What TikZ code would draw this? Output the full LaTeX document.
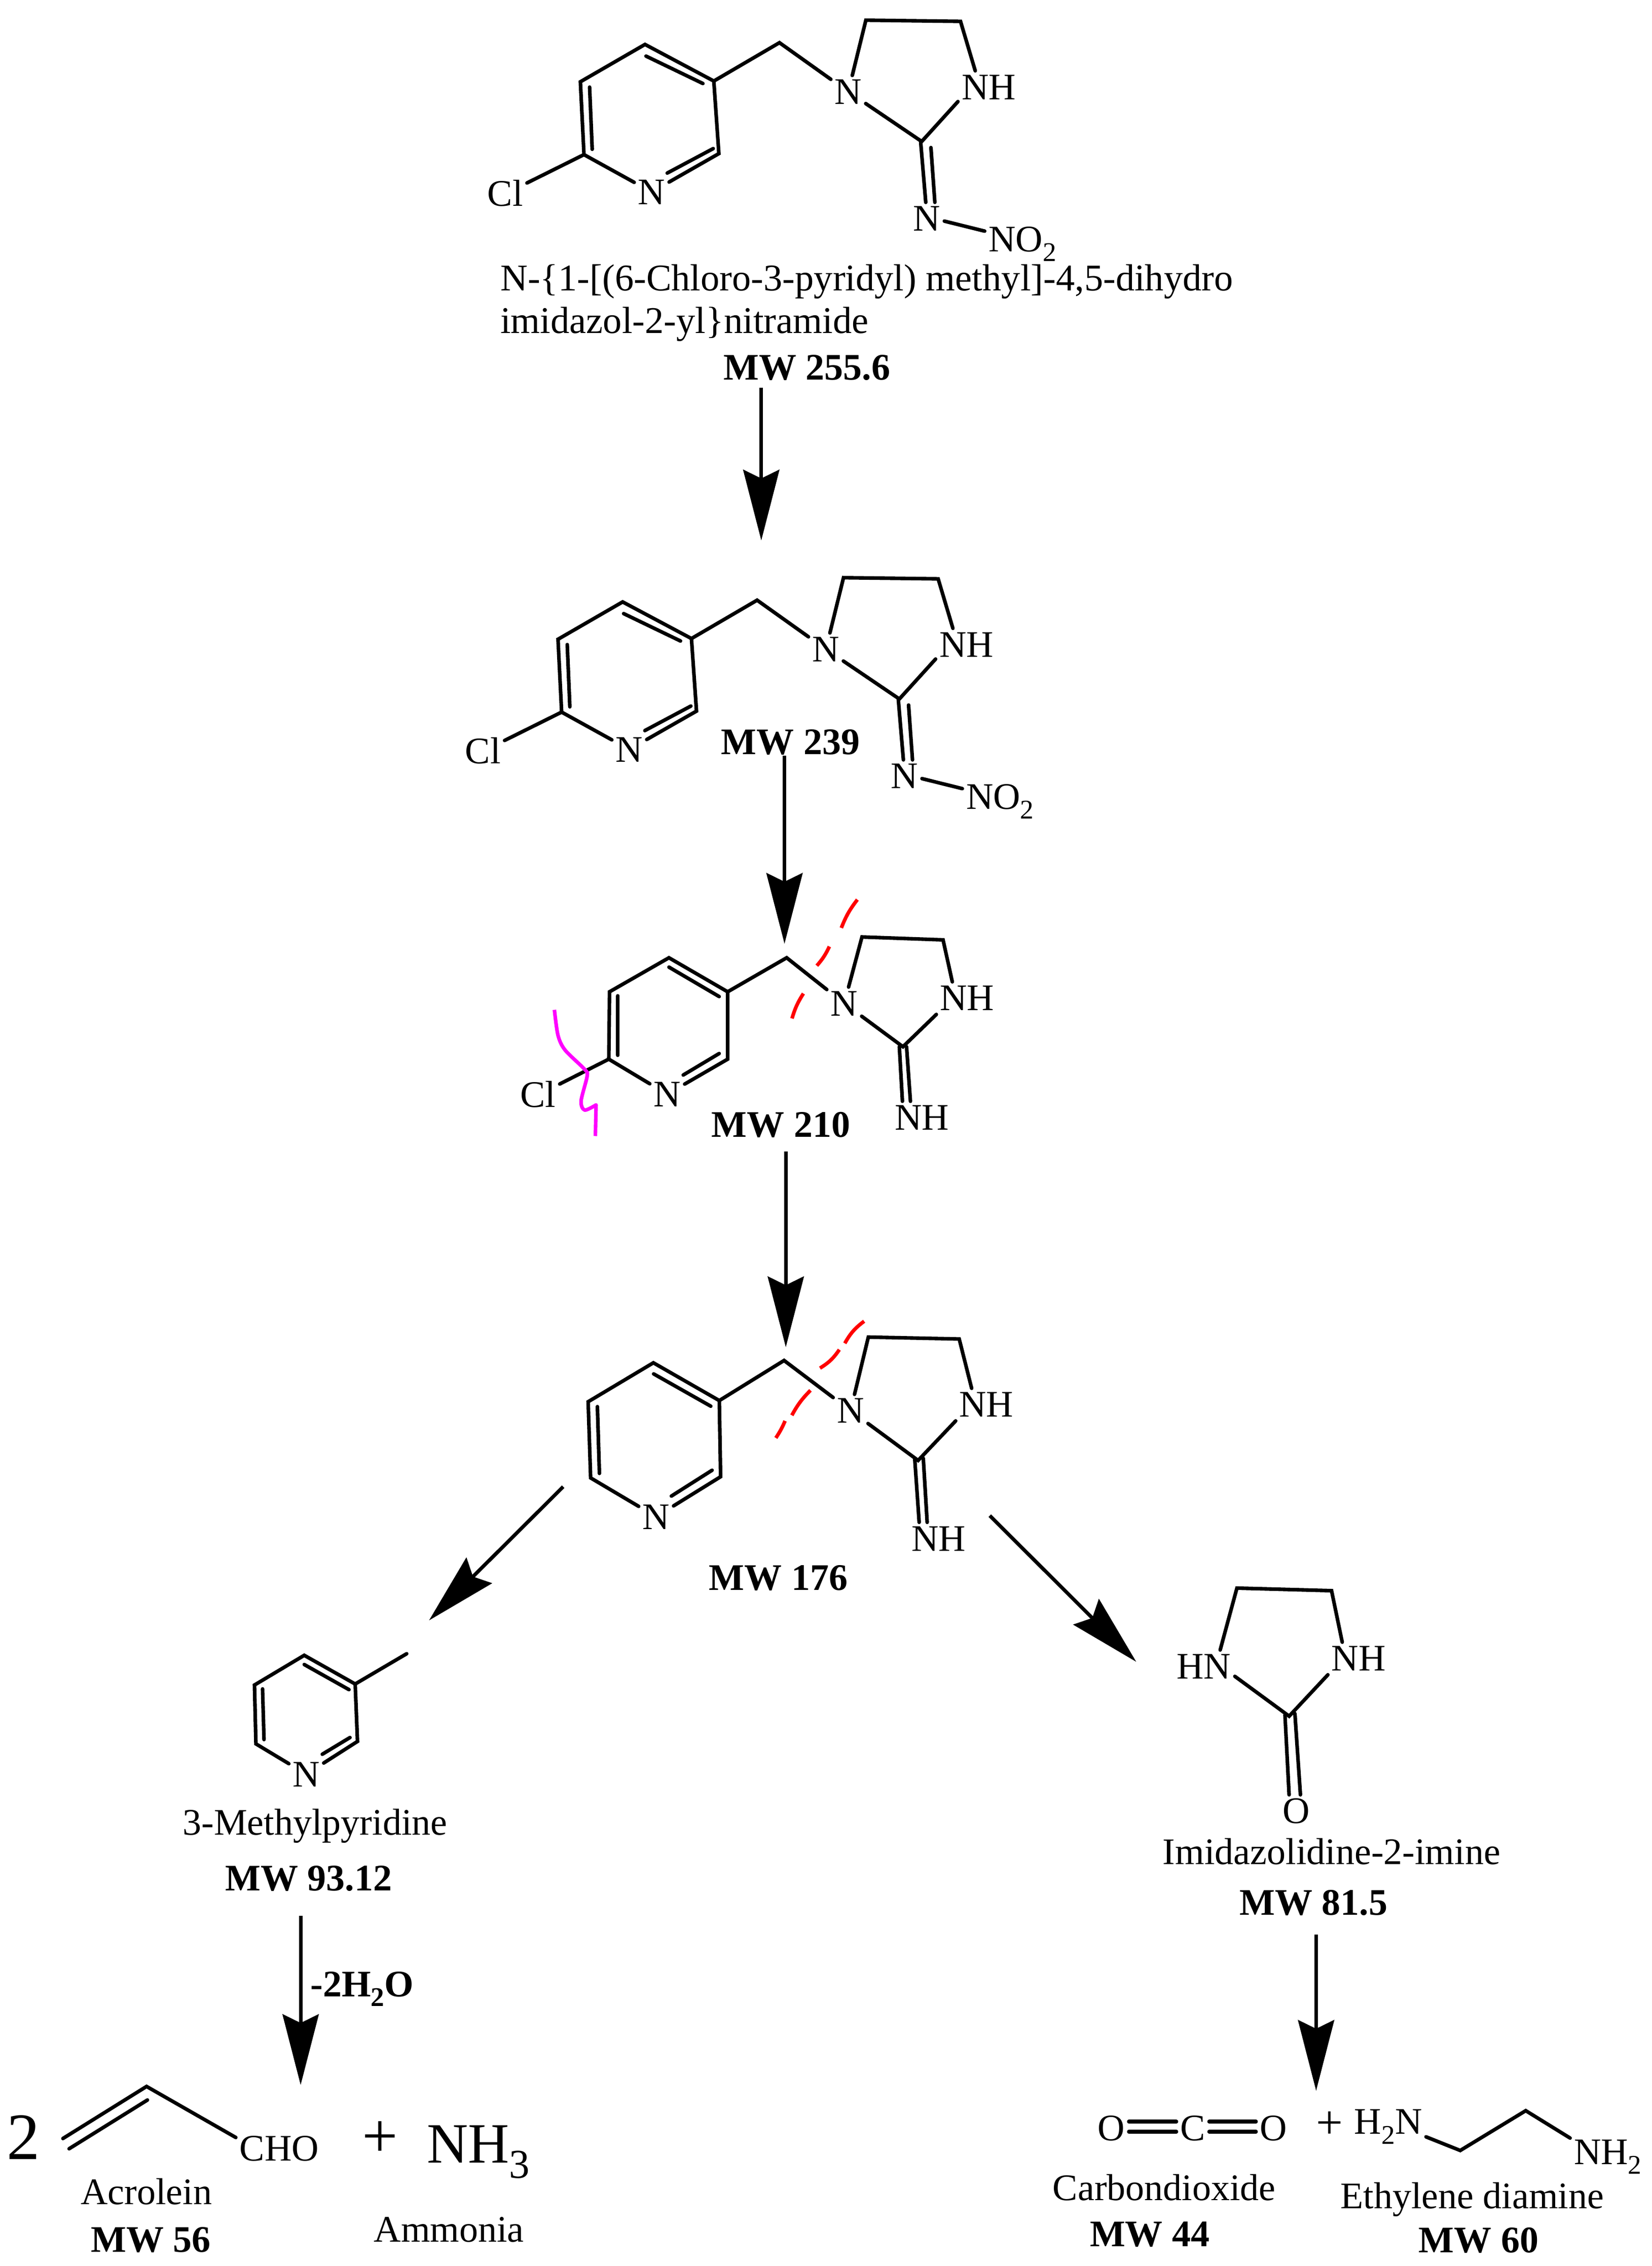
\documentclass[tikz,border=0pt]{standalone}
\usepackage{fontspec}
\setmainfont{Liberation Serif}
\usetikzlibrary{arrows.meta}
\newcommand\chemsub[1]{\raisebox{-.26em}{\scalebox{.72}{#1}}}
\definecolor{cutr}{RGB}{255,0,0}
\definecolor{cutm}{RGB}{255,0,255}
\tikzset{
  bond/.style={line width=2.5pt,line cap=round,line join=miter},
  rxn/.style={line width=2.5pt,-{Stealth[length=49pt,width=25pt,inset=6pt]}},
  atom/.style={font=\fontsize{26}{30}\selectfont,inner sep=2.5pt,text height=17.2pt,text depth=0pt},
  lab/.style={font=\fontsize{26}{30}\selectfont,inner sep=0pt,anchor=base},
  mw/.style={font=\fontsize{26}{30}\selectfont\bfseries,inner sep=0pt,anchor=base},
  cutred/.style={line width=2.5pt,draw=cutr},
  cutpink/.style={line width=2.5pt,draw=cutm},
}
\newcommand\nitromol{%
  \coordinate (r1) at (447.1,30.8);
  \coordinate (r2) at (402.3,56.7);
  \coordinate (r3) at (404.8,107.2);
  \coordinate (r5) at (498.3,106.5);
  \coordinate (r6) at (494.8,56.2);
  \coordinate (ch) at (540.3,29.6);
  \coordinate (i1) at (600.2,14);
  \coordinate (i2) at (665.8,14.8);
  \coordinate (c2) at (638.9,98.1);
  \coordinate (ia) at (447.8,38.9); \coordinate (ib) at (487.2,57.9);
  \coordinate (ic) at (408.7,60.4); \coordinate (id) at (410.5,103.5);
  \coordinate (ie) at (494.4,103);  \coordinate (if) at (462.5,120);
  \coordinate (da) at (638.2,98.6); \coordinate (db) at (645.3,102.3);
  \node[atom] (cl) at (350.3,134.3) {Cl};
  \node[atom] (n) at (451.7,133.1) {N};
  \node[atom] (n1) at (588,63.6) {N};
  \node[atom] (nh) at (685.5,60.4) {NH};
  \node[atom] (nn) at (642.5,151.6) {N};
  \node[atom] (no) at (708.7,165.8) {NO\chemsub{2}};
  \draw[bond] (n) -- (r3) -- (r2) -- (r1) -- (r6) -- (r5) -- (n);
  \draw[bond] (ia) -- (ib) (ic) -- (id) (ie) -- (if);
  \draw[bond] (r3) -- (cl);
  \draw[bond] (r6) -- (ch) -- (n1);
  \draw[bond] (n1) -- (i1) -- (i2) -- (nh.130);
  \draw[bond] (n1) -- (c2) -- (nh.205);
  \draw[bond] (da) -- (nn.94) (db) -- (nn.64);
  \draw[bond] (nn.352) -- (no.168);
}
\begin{document}
\begin{tikzpicture}[x=1pt,y=-1pt]
\useasboundingbox (0,0) rectangle (1145.1,1571);
% molecule 1
\begin{scope}[name prefix=a-]
\nitromol
\end{scope}
\node[lab,anchor=north west,align=left,font=\fontsize{26.15}{29.6}\selectfont] (nameA) at (346.7,183.2)
  {N-\{1-[(6-Chloro-3-pyridyl) methyl]-4,5-dihydro\\imidazol-2-yl\}nitramide};
\node[mw] (mwA) at (559.3,263.2) {MW 255.6};
% molecule 2
\begin{scope}[name prefix=b-,shift={(-15.5,386.5)}]
\nitromol
\end{scope}
\node[mw] (mwB) at (548,523) {MW 239};
% molecule 3
\begin{scope}[name prefix=c-]
  \coordinate (r1) at (463.7,664);
  \coordinate (r2) at (422.5,687.6);
  \coordinate (r3) at (422,734.3);
  \coordinate (r5) at (504.4,734.3);
  \coordinate (r6) at (504.4,687.6);
  \coordinate (ch) at (545.3,664);
  \coordinate (i1) at (597.5,649.6);
  \coordinate (i2) at (653.7,651.6);
  \coordinate (c2) at (625.9,725.7);
  \coordinate (ia) at (463.7,670.5); \coordinate (ib) at (498.5,690.9);
  \coordinate (ic) at (428.2,690.4); \coordinate (id) at (428.2,731.6);
  \coordinate (ie) at (498.5,730.4); \coordinate (if) at (473.6,745.3);
  \coordinate (da) at (623.4,725.7); \coordinate (db) at (628.4,725.7);
  \node[atom] (cl) at (373,759.1) {Cl};
  \node[atom] (n) at (462.5,758.6) {N};
  \node[atom] (n1) at (585.2,695.6) {N};
  \node[atom] (nh) at (670.3,692) {NH};
  \node[atom] (nl) at (639,774.8) {NH};
  \draw[bond] (n) -- (r3) -- (r2) -- (r1) -- (r6) -- (r5) -- (n);
  \draw[bond] (ia) -- (ib) (ic) -- (id) (ie) -- (if);
  \draw[bond] (r3) -- (cl);
  \draw[bond] (r6) -- (ch) -- (n1);
  \draw[bond] (n1) -- (i1) -- (i2) -- (nh.132);
  \draw[bond] (n1) -- (c2) -- (nh.208);
  \draw[bond] (da) -- (nl.140) (db) -- (nl.125);
\end{scope}
\draw[cutred] (594.3,623.7) to[bend right=8] (583.2,643.3);
\draw[cutred] (574.9,656.2) to[bend left=8] (566.2,669.5);
\draw[cutred] (556.9,688.8) to[bend right=8] (549,706.1);
\draw[cutpink,line join=round] plot[smooth] coordinates {(384.3,700.1) (386.8,717.8) (391.7,728) (405.3,741.4) (407,746) (402.8,763.3) (405.3,769.6) (413.2,766)} -- (412.7,787.6);
\node[mw] (mwC) at (541.3,788.4) {MW 210};
% molecule 4
\begin{scope}[name prefix=d-]
  \coordinate (r1) at (452.9,944.8);
  \coordinate (r2) at (407.7,971.8);
  \coordinate (r3) at (409.4,1024.6);
  \coordinate (r5) at (499.5,1023.8);
  \coordinate (r6) at (498.6,971);
  \coordinate (ch) at (543.5,943.2);
  \coordinate (i1) at (601.9,927);
  \coordinate (i2) at (664.9,928.3);
  \coordinate (c2) at (636.4,1012.5);
  \coordinate (ia) at (453.1,952.5); \coordinate (ib) at (492.7,974.9);
  \coordinate (ic) at (414.1,975.2); \coordinate (id) at (415.5,1021.5);
  \coordinate (ie) at (493.6,1019.3); \coordinate (if) at (465.4,1037.2);
  \coordinate (da) at (634.1,1011.8); \coordinate (db) at (640,1011);
  \node[atom] (n) at (454.8,1051.5) {N};
  \node[atom] (n1) at (589.6,978) {N};
  \node[atom] (nh) at (683.7,973.8) {NH};
  \node[atom] (nl) at (650.6,1066.7) {NH};
  \draw[bond] (n) -- (r3) -- (r2) -- (r1) -- (r6) -- (r5) -- (n);
  \draw[bond] (ia) -- (ib) (ic) -- (id) (ie) -- (if);
  \draw[bond] (r6) -- (ch) -- (n1);
  \draw[bond] (n1) -- (i1) -- (i2) -- (nh.132);
  \draw[bond] (n1) -- (c2) -- (nh.208);
  \draw[bond] (da) -- (nl.140) (db) -- (nl.125);
\end{scope}
\draw[cutred] (599,916) to[bend right=12] (585.6,931.3);
\draw[cutred] (581.8,935.7) to[bend left=12] (568.4,948.5);
\draw[cutred] (561.8,963.9) to[bend right=8] (548.9,981.2);
\draw[cutred] (544.2,985.1) to[bend left=5] (537.8,996.9);
\node[mw] (mwD) at (539.5,1102.5) {MW 176};
% 3-methylpyridine
\begin{scope}[name prefix=e-]
  \coordinate (r1) at (210.9,1147.6);
  \coordinate (r2) at (176.4,1168.2);
  \coordinate (r3) at (177.4,1209);
  \coordinate (r5) at (247.8,1207.3);
  \coordinate (r6) at (246.2,1167.5);
  \coordinate (me) at (281.9,1146.5);
  \coordinate (ia) at (210.9,1154); \coordinate (ib) at (241.9,1171.4);
  \coordinate (ic) at (182,1170.9); \coordinate (id) at (183,1206);
  \coordinate (ie) at (242.6,1204.6); \coordinate (if) at (223.4,1216.2);
  \node[atom] (n) at (212.3,1230) {N};
  \draw[bond] (n) -- (r3) -- (r2) -- (r1) -- (r6) -- (r5) -- (n);
  \draw[bond] (ia) -- (ib) (ic) -- (id) (ie) -- (if);
  \draw[bond] (r6) -- (me);
\end{scope}
\node[lab] (nameE) at (218.4,1272) {3-Methylpyridine};
\node[mw] (mwE) at (214,1310.9) {MW 93.12};
% imidazolidinone
\begin{scope}[name prefix=f-]
  \coordinate (i1) at (857.4,1101);
  \coordinate (i2) at (923,1102.8);
  \coordinate (c2) at (893.6,1189.8);
  \coordinate (da) at (890.7,1188.9); \coordinate (db) at (897.6,1188);
  \node[atom] (hn) at (834.5,1155.2) {HN};
  \node[atom] (nh) at (941.7,1149.8) {NH};
  \node[atom] (o) at (898.6,1255.6) {O};
  \draw[bond] (hn.45) -- (i1) -- (i2) -- (nh.135);
  \draw[bond] (hn.342) -- (c2) -- (nh.208);
  \draw[bond] (da) -- (o.114) (db) -- (o.76);
\end{scope}
\node[lab] (nameF) at (923,1292.4) {Imidazolidine-2-imine};
\node[mw] (mwF) at (910.5,1327.6) {MW 81.5};
% acrolein
\begin{scope}[name prefix=g-]
  \coordinate (c2) at (101.6,1446.5);
  \coordinate (c1) at (43.6,1482.6);
  \coordinate (ia) at (102.2,1455.9); \coordinate (ib) at (47.9,1489.7);
  \node[atom] (cho) at (193.6,1489.4) {CHO};
  \draw[bond] (c1) -- (c2) -- (cho.166);
  \draw[bond] (ia) -- (ib);
\end{scope}
\node[lab,font=\fontsize{46}{50}\selectfont] (two) at (16.4,1497) {2};
\node[lab,font=\fontsize{44}{48}\selectfont] (plusA) at (263.5,1495.5) {+};
\node[lab,font=\fontsize{39.5}{44}\selectfont,anchor=base west] (nh3) at (295.8,1499.6) {NH\chemsub{3}};
\node[lab] (nameG) at (101.5,1528.4) {Acrolein};
\node[mw] (mwG) at (104.5,1561.3) {MW 56};
\node[lab] (nameH) at (311.2,1554.4) {Ammonia};
% carbon dioxide
\node[atom] (co1) at (770.4,1475.4) {O};
\node[atom] (cc) at (826.8,1475.4) {C};
\node[atom] (co2) at (882.7,1475.4) {O};
\draw[bond,line width=2.6pt] ([yshift=4.5pt]co1.east) -- ([yshift=4.5pt]cc.west);
\draw[bond,line width=2.6pt] ([yshift=-2.5pt]co1.east) -- ([yshift=-2.5pt]cc.west);
\draw[bond,line width=2.6pt] ([yshift=4.5pt]cc.east) -- ([yshift=4.5pt]co2.west);
\draw[bond,line width=2.6pt] ([yshift=-2.5pt]cc.east) -- ([yshift=-2.5pt]co2.west);
\node[lab,font=\fontsize{33}{36}\selectfont] (plusB) at (921.6,1482.5) {+};
\node[lab] (nameI) at (807,1525.5) {Carbondioxide};
\node[mw] (mwI) at (797,1557.5) {MW 44};
% ethylene diamine
\coordinate (e1) at (1012.2,1490.9);
\coordinate (e2) at (1057.6,1463.3);
\node[atom] (en1) at (962.3,1471) {H\chemsub{2}N};
\node[atom] (en2) at (1114.5,1491.8) {NH\chemsub{2}};
\draw[bond] (en1) -- (e1) -- (e2) -- (en2.160);
\node[lab] (nameJ) at (1020.5,1531.2) {Ethylene diamine};
\node[mw] (mwJ) at (1025,1561.8) {MW 60};
% reaction arrows
\coordinate (s1) at (527.7,268.7);  \coordinate (t1) at (527.7,374.7);
\coordinate (s2) at (543.8,524);    \coordinate (t2) at (543.8,654.3);
\coordinate (s3) at (544.7,798.3);  \coordinate (t3) at (544.7,934);
\coordinate (s4) at (390.4,1030.7); \coordinate (t4) at (297.4,1123.4);
\coordinate (s5) at (686.1,1050.8); \coordinate (t5) at (787.6,1152.1);
\coordinate (s6) at (208.4,1328.2); \coordinate (t6) at (208.4,1445.5);
\coordinate (s7) at (912.3,1341.1); \coordinate (t7) at (912.3,1449.5);
\foreach \k in {1,...,7} {\draw[rxn] (s\k) -- (t\k);}
\node[mw,anchor=base west] (water) at (215.1,1384.2) {-2H\chemsub{2}O};
\end{tikzpicture}
\end{document}
